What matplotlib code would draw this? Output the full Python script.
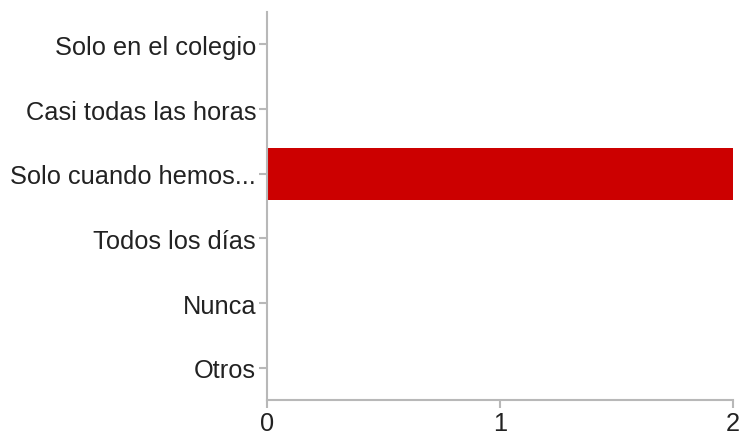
import numpy as np
import matplotlib.pyplot as plt

plt.rcParams['font.family'] = ['Liberation Sans', 'DejaVu Sans']

categorias = ["Solo en el colegio", "Casi todas las horas", "Solo cuando hemos...",
              "Todos los días", "Nunca", "Otros"]
valores = [0, 0, 2, 0, 0, 0]
ticks_x = [0, 1, 2]

fig = plt.figure(figsize=(7.4, 4.35), dpi=100)
ax = fig.add_axes([0.361, 0.078, 0.6295, 0.892])

pos = np.arange(len(categorias))
ax.barh(pos, valores, height=0.8, color='#cc0000')

ax.set_ylim(len(categorias) - 0.5, -0.5)
ax.set_xlim(0, 2)
ax.set_yticks(pos)
ax.set_yticklabels(categorias)
ax.set_xticks(ticks_x)
ax.set_xticklabels([str(t) for t in ticks_x])

for s in ['top', 'right']:
    ax.spines[s].set_visible(False)
for s in ['left', 'bottom']:
    ax.spines[s].set_color('#b8b8b8')
    ax.spines[s].set_linewidth(1.5)

ax.tick_params(axis='both', colors='#b8b8b8', width=1.5, length=6, labelsize=18.3, labelcolor='#222222')
ax.tick_params(axis='y', pad=2)
ax.tick_params(axis='x', pad=2)

fig.savefig('out.png', dpi=100)
